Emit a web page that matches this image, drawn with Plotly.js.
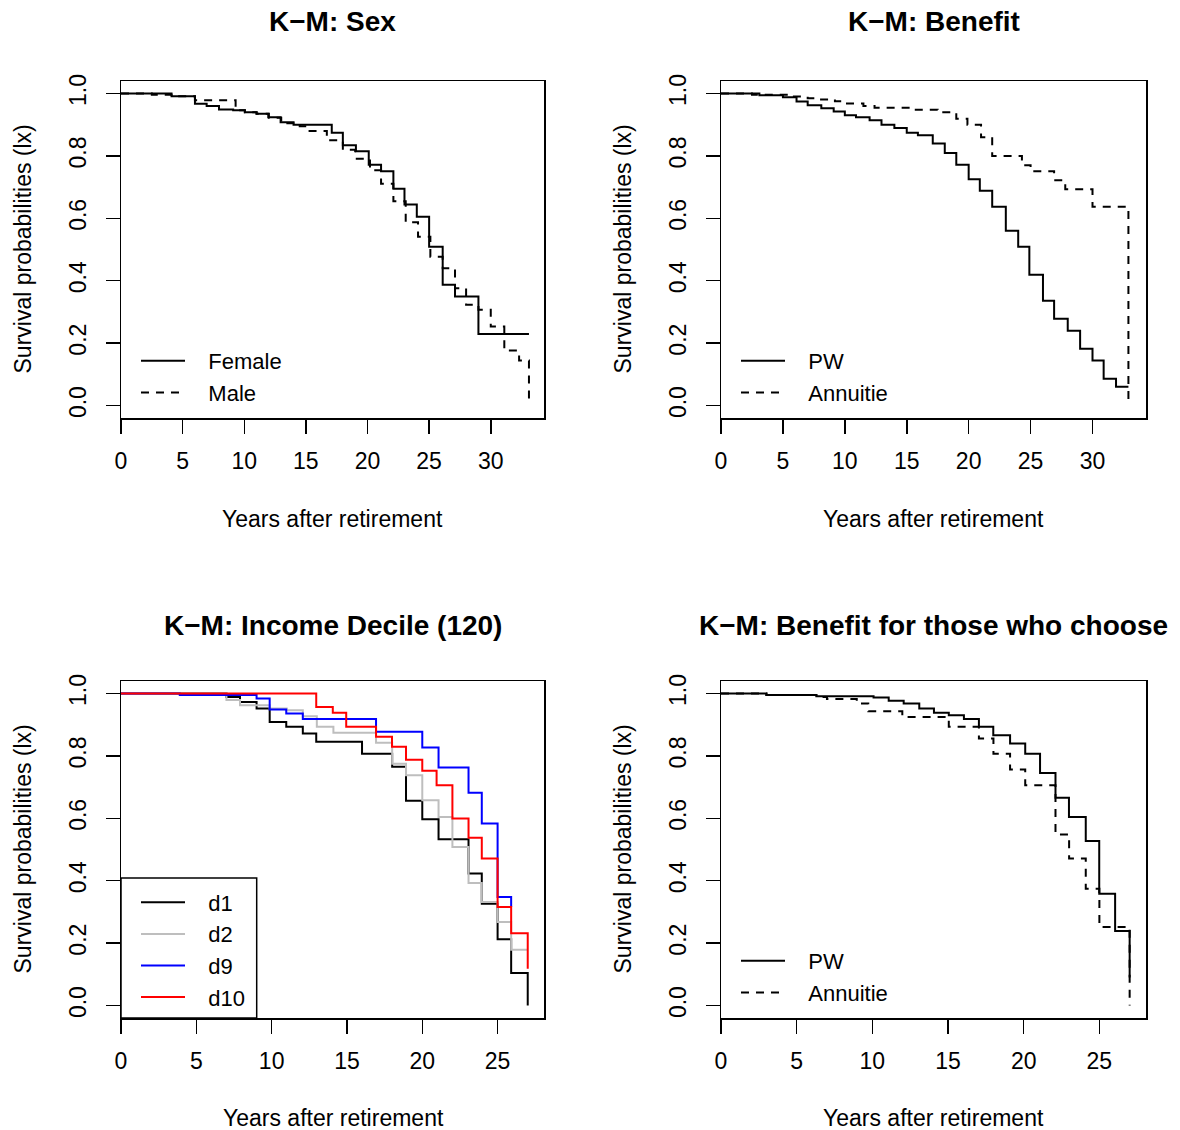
<!DOCTYPE html>
<html><head><meta charset="utf-8">
<script src="https://cdn.plot.ly/plotly-3.0.1.min.js"></script>
<style>html,body{margin:0;padding:0;background:#fff}</style>
</head><body><div id="chart" style="width:1180px;height:1130px"></div>
<script>
// ---------- Data (Kaplan-Meier step points: time, survival) ----------
// Panel 1: Sex
const sexFemaleT = [0, 4.1, 6.0, 6.95, 7.95, 9.1, 10.05, 11.0, 11.95, 12.95, 14.0, 17.1, 18.0, 19.06, 20.1, 21.1, 22.1, 23.0, 24.0, 25.0, 26.1, 27.1, 29.0, 33.1];
const sexFemaleS = [1.0, 0.991, 0.967, 0.960, 0.949, 0.946, 0.940, 0.935, 0.924, 0.908, 0.900, 0.874, 0.834, 0.815, 0.772, 0.751, 0.695, 0.644, 0.605, 0.509, 0.387, 0.349, 0.229, 0.229];
const sexMaleT = [0, 2.5, 4.1, 6.0, 9.3, 10.05, 11.0, 12.0, 13.0, 14.5, 15.3, 16.7, 18.0, 19.0, 20.2, 21.1, 22.1, 23.1, 24.1, 25.1, 26.1, 27.1, 28.0, 29.0, 30.0, 31.1, 32.3, 33.1];
const sexMaleS = [1.0, 0.996, 0.991, 0.978, 0.946, 0.940, 0.935, 0.922, 0.905, 0.895, 0.880, 0.850, 0.820, 0.791, 0.754, 0.711, 0.655, 0.587, 0.541, 0.477, 0.440, 0.376, 0.323, 0.307, 0.253, 0.176, 0.144, 0.0];

// Panel 2: Benefit
const benPWT = [0, 3.1, 5.0, 6.1, 7.0, 8.1, 9.1, 10.0, 10.9, 12.0, 12.96, 14.0, 15.0, 15.9, 17.1, 18.07, 19.0, 20.0, 20.9, 21.9, 23.0, 24.0, 24.9, 26.0, 26.9, 28.0, 29.0, 30.0, 30.9, 31.9, 32.9];
const benPWS = [1.0, 0.994, 0.988, 0.974, 0.962, 0.953, 0.942, 0.930, 0.924, 0.914, 0.900, 0.889, 0.874, 0.866, 0.840, 0.809, 0.772, 0.725, 0.688, 0.637, 0.560, 0.509, 0.419, 0.336, 0.278, 0.240, 0.182, 0.144, 0.086, 0.060, 0.060];
const benAnnT = [0, 2.5, 5.5, 7.0, 8.0, 9.2, 10.0, 11.5, 12.4, 15.5, 17.5, 19.0, 19.9, 21.0, 21.9, 24.3, 25.0, 26.9, 27.8, 30.0, 32.9];
const benAnnS = [1.0, 0.996, 0.990, 0.985, 0.981, 0.975, 0.968, 0.960, 0.954, 0.948, 0.940, 0.919, 0.900, 0.860, 0.800, 0.770, 0.751, 0.722, 0.693, 0.637, 0.0];

// Panel 3: Income decile
const decD1T = [0, 7.0, 7.9, 9.0, 9.87, 10.97, 12.07, 12.96, 16.0, 18.0, 18.92, 20.0, 21.08, 23.07, 23.95, 25.0, 25.9, 27.0];
const decD1S = [1.0, 0.989, 0.973, 0.952, 0.909, 0.893, 0.872, 0.845, 0.807, 0.765, 0.656, 0.597, 0.533, 0.423, 0.326, 0.212, 0.104, 0.0];
const decD2T = [0, 7.0, 7.9, 9.87, 11.0, 12.07, 13.0, 14.1, 16.93, 18.0, 18.92, 20.0, 21.08, 22.0, 23.07, 23.95, 25.0, 25.9, 27.0];
const decD2S = [1.0, 0.979, 0.962, 0.952, 0.946, 0.927, 0.893, 0.874, 0.842, 0.775, 0.738, 0.658, 0.604, 0.508, 0.393, 0.332, 0.268, 0.179, 0.179];
const decD9T = [0, 3.9, 9.0, 9.87, 10.97, 12.07, 16.93, 20.0, 21.08, 23.07, 23.95, 25.0, 25.9];
const decD9S = [1.0, 0.995, 0.984, 0.949, 0.936, 0.918, 0.877, 0.827, 0.763, 0.682, 0.583, 0.348, 0.316];
const decD10T = [0, 12.96, 14.06, 14.95, 16.93, 17.99, 18.92, 20.0, 20.95, 22.0, 23.07, 23.95, 25.0, 25.9, 27.0];
const decD10S = [1.0, 0.957, 0.938, 0.893, 0.861, 0.829, 0.788, 0.752, 0.706, 0.599, 0.538, 0.471, 0.316, 0.232, 0.118];

// Panel 4: Benefit for those who choose
const chPWT = [0, 3.0, 6.3, 10.08, 11.08, 12.07, 13.1, 14.07, 15.05, 16.05, 17.04, 17.99, 19.1, 20.1, 21.08, 22.1, 22.99, 24.1, 24.99, 26.04, 27.0];
const chPWS = [1.0, 0.995, 0.991, 0.987, 0.977, 0.968, 0.952, 0.938, 0.930, 0.918, 0.893, 0.866, 0.840, 0.807, 0.745, 0.666, 0.604, 0.527, 0.358, 0.239, 0.090];
const chAnnT = [0, 3.0, 6.3, 7.0, 8.97, 9.73, 11.98, 15.05, 17.04, 18.0, 19.1, 20.1, 22.1, 23.0, 24.1, 25.0, 27.0];
const chAnnS = [1.0, 0.995, 0.989, 0.982, 0.968, 0.943, 0.925, 0.893, 0.856, 0.807, 0.756, 0.706, 0.548, 0.471, 0.374, 0.252, 0.0];

// Labels
const panelTitles = ['K\u2212M: Sex', 'K\u2212M: Benefit', 'K\u2212M: Income Decile (120)', 'K\u2212M: Benefit for those who choose'];
const xTitle = 'Years after retirement';
const yTitle = 'Survival probabilities (lx)';
const xTicksLong = [0, 5, 10, 15, 20, 25, 30];
const xTicksShort = [0, 5, 10, 15, 20, 25];
const yTicks = [0, 0.2, 0.4, 0.6, 0.8, 1.0];
const yTickText = ['0.0', '0.2', '0.4', '0.6', '0.8', '1.0'];

// ---------- Styling ----------
const FONT = 'Liberation Sans, Arial, Helvetica, sans-serif';
const DASH = '8px,7px';
const LW = 2;
const PAD = '\u00a0\u00a0\u00a0'; // gap between legend line sample and label (R style)

function km(x, y, name, color, dash, xa, ya, legend) {
  return {x: x, y: y, name: PAD + name, type: 'scatter', mode: 'lines',
    line: {shape: 'hv', color: color, width: LW, dash: dash},
    xaxis: xa, yaxis: ya, legend: legend, hoverinfo: 'x+y+name'};
}

const traces = [
  km(sexFemaleT, sexFemaleS, 'Female', '#000', 'solid', 'x', 'y', 'legend'),
  km(sexMaleT, sexMaleS, 'Male', '#000', DASH, 'x', 'y', 'legend'),
  km(benPWT, benPWS, 'PW', '#000', 'solid', 'x2', 'y2', 'legend2'),
  km(benAnnT, benAnnS, 'Annuitie', '#000', DASH, 'x2', 'y2', 'legend2'),
  km(decD1T, decD1S, 'd1', '#000', 'solid', 'x3', 'y3', 'legend3'),
  km(decD2T, decD2S, 'd2', '#BEBEBE', 'solid', 'x3', 'y3', 'legend3'),
  km(decD9T, decD9S, 'd9', '#0000FF', 'solid', 'x3', 'y3', 'legend3'),
  km(decD10T, decD10S, 'd10', '#FF0000', 'solid', 'x3', 'y3', 'legend3'),
  km(chPWT, chPWS, 'PW', '#000', 'solid', 'x4', 'y4', 'legend4'),
  km(chAnnT, chAnnS, 'Annuitie', '#000', DASH, 'x4', 'y4', 'legend4')
];

const W = 1180, H = 1130;
const px = v => v / W;
const py = v => (H - v) / H;

function xax(domain, range, ticks, anchor) {
  return {domain: domain, range: range, anchor: anchor, tickvals: ticks,
    showgrid: false, zeroline: false, showline: true, mirror: true,
    linecolor: '#000', linewidth: 1.5, ticks: 'outside', ticklen: 14,
    tickwidth: 1.5, tickcolor: '#000', ticklabelstandoff: 8,
    tickfont: {family: FONT, size: 23, color: '#000'}, fixedrange: true};
}
function yax(domain, anchor) {
  return {domain: domain, range: [-0.04, 1.04], anchor: anchor,
    tickvals: yTicks, ticktext: yTickText, tickangle: -90,
    showgrid: false, zeroline: false, showline: true, mirror: true,
    linecolor: '#000', linewidth: 1.5, ticks: 'outside', ticklen: 14,
    tickwidth: 1.5, tickcolor: '#000', ticklabelstandoff: 10,
    tickfont: {family: FONT, size: 23, color: '#000'}, fixedrange: true};
}

const xL = [px(121), px(544)], xR = [px(721), px(1146)];
const yT = [py(418), py(81)], yB = [py(1018), py(681)];

function leg(x, y) {
  return {x: x, y: y, xanchor: 'left', yanchor: 'middle', xref: 'paper', yref: 'paper',
    bgcolor: 'rgba(255,255,255,0)', bordercolor: 'rgba(0,0,0,0)',
    borderwidth: 0, itemwidth: 44, tracegroupgap: 0,
    font: {family: FONT, size: 22, color: '#000'}, itemclick: false, itemdoubleclick: false};
}

const annotations = [];
const centers = [[332.5, 22], [933.5, 22], [333, 625], [933.5, 625]];
panelTitles.forEach((t, i) => annotations.push({text: '<b>' + t + '</b>', x: px(centers[i][0]), y: py(centers[i][1]),
  xref: 'paper', yref: 'paper', xanchor: 'center', yanchor: 'middle', showarrow: false,
  font: {family: FONT, size: 28, color: '#000'}}));
[[332.5, 519], [933.5, 519], [333, 1118], [933.5, 1118]].forEach(c => annotations.push({text: xTitle,
  x: px(c[0]), y: py(c[1]), xref: 'paper', yref: 'paper', xanchor: 'center', yanchor: 'middle',
  showarrow: false, font: {family: FONT, size: 23, color: '#000'}}));
[[22, 249.5], [622, 249.5], [22, 849.5], [622, 849.5]].forEach(c => annotations.push({text: yTitle,
  x: px(c[0]), y: py(c[1]), xref: 'paper', yref: 'paper', xanchor: 'center', yanchor: 'middle',
  textangle: -90, showarrow: false, font: {family: FONT, size: 23, color: '#000'}}));

// Frame around the income-decile legend (R legend box), placed in the panel's domain
const shapes = [{type: 'rect', xref: 'x3 domain', yref: 'y3 domain', x0: 0, y0: 0, x1: 0.3208, y1: 0.4154,
  line: {color: '#000', width: 1.5}, fillcolor: 'rgba(0,0,0,0)', layer: 'above'}];

const layout = {
  width: W, height: H, margin: {l: 0, r: 0, t: 0, b: 0},
  paper_bgcolor: '#fff', plot_bgcolor: '#fff', showlegend: true,
  font: {family: FONT, color: '#000'},
  xaxis: xax(xL, [0, 34.32], xTicksLong, 'y'),
  yaxis: yax(yT, 'x'),
  xaxis2: xax(xR, [0, 34.32], xTicksLong, 'y2'),
  yaxis2: yax(yT, 'x2'),
  xaxis3: xax(xL, [0, 28.08], xTicksShort, 'y3'),
  yaxis3: yax(yB, 'x3'),
  xaxis4: xax(xR, [0, 28.08], xTicksShort, 'y4'),
  yaxis4: yax(yB, 'x4'),
  legend: leg(px(136), py(377)),
  legend2: leg(px(736), py(377)),
  legend3: leg(px(136), py(950)),
  legend4: leg(px(736), py(977)),
  annotations: annotations,
  shapes: shapes
};

Plotly.newPlot('chart', traces, layout, {displayModeBar: false, staticPlot: true});
</script></body></html>
